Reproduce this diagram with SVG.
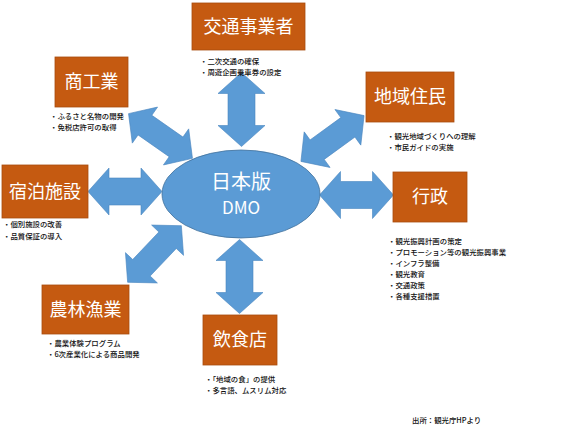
<svg xmlns="http://www.w3.org/2000/svg" xmlns:xlink="http://www.w3.org/1999/xlink" width="567" height="429" viewBox="0 0 567 429">
<style>
.box{fill:#c55a11;stroke:#a84c0e;stroke-width:0.8}
.title{fill:#ffffff;font-family:"Noto Sans CJK JP","Noto Sans",sans-serif;font-size:18px;text-anchor:middle}
.note{fill:#111111;font-family:"Noto Sans CJK JP","Noto Sans",sans-serif;font-size:7.4px;font-weight:500}
.arrow{fill:#5b9bd5;stroke:#4a86c0;stroke-width:0.6}
.center{fill:#5b9bd5;stroke:#41719c;stroke-width:0.8}
.ctext{fill:#ffffff;font-family:"Noto Sans CJK JP","Noto Sans",sans-serif;text-anchor:middle}
</style>
<defs>
<path id="dbl74" d="M-37,0 L-16,-23.5 L-16,-13.5 L16,-13.5 L16,-23.5 L37,0 L16,23.5 L16,13.5 L-16,13.5 L-16,23.5 Z"/>
<path id="dbl78" d="M-39,0 L-19,-22 L-19,-12 L19,-12 L19,-22 L39,0 L19,22 L19,12 L-19,12 L-19,22 Z"/>
</defs>
<rect width="567" height="429" fill="#ffffff"/>
<g id="connectors">
<use xlink:href="#dbl74" class="arrow" transform="translate(241.5,109.5) rotate(90)"/>
<use xlink:href="#dbl74" class="arrow" transform="translate(239.5,276.5) rotate(90)"/>
<use xlink:href="#dbl74" class="arrow" transform="translate(125,191.5)"/>
<use xlink:href="#dbl74" class="arrow" transform="translate(356.5,195)"/>
<use xlink:href="#dbl78" class="arrow" transform="translate(160.5,136) rotate(35)"/>
<use xlink:href="#dbl78" class="arrow" transform="translate(332.5,138.5) rotate(-36)"/>
<use xlink:href="#dbl78" class="arrow" transform="translate(154.5,254) rotate(-46.5)"/>
</g>
<g id="dmo">
<ellipse class="center" cx="241" cy="194" rx="79" ry="44"/>
<text class="ctext" x="241" y="189" font-size="20">日本版</text>
<text class="ctext" x="241" y="214" font-size="17">DMO</text>
</g>
<g id="kotsu">
<rect class="box" x="192" y="3" width="113" height="47"/>
<text class="title" x="248.5" y="33">交通事業者</text>
<text class="note" x="200" y="64">・二次交通の確保</text>
<text class="note" x="200" y="75">・周遊企画乗車券の設定</text>
</g>
<g id="shokogyo">
<rect class="box" x="55" y="57" width="73" height="50"/>
<text class="title" x="91.5" y="88">商工業</text>
<text class="note" x="50" y="119">・ふるさと名物の開発</text>
<text class="note" x="50" y="130">・免税店許可の取得</text>
</g>
<g id="jumin">
<rect class="box" x="366" y="72" width="88" height="50"/>
<text class="title" x="410" y="103">地域住民</text>
<text class="note" x="387" y="139">・観光地域づくりへの理解</text>
<text class="note" x="387" y="150">・市民ガイドの実施</text>
</g>
<g id="shukuhaku">
<rect class="box" x="2" y="165" width="86" height="53"/>
<text class="title" x="45" y="198">宿泊施設</text>
<text class="note" x="3" y="227">・個別施設の改善</text>
<text class="note" x="3" y="239">・品質保証の導入</text>
</g>
<g id="gyosei">
<rect class="box" x="393" y="172" width="74" height="50"/>
<text class="title" x="430" y="203">行政</text>
<text class="note" x="388" y="244">・観光振興計画の策定</text>
<text class="note" x="388" y="255">・プロモーション等の観光振興事業</text>
<text class="note" x="388" y="266">・インフラ整備</text>
<text class="note" x="388" y="277">・観光教育</text>
<text class="note" x="388" y="288">・交通政策</text>
<text class="note" x="388" y="299">・各種支援措置</text>
</g>
<g id="norin">
<rect class="box" x="42" y="285" width="87" height="49"/>
<text class="title" x="85.5" y="316">農林漁業</text>
<text class="note" x="47" y="346">・農業体験プログラム</text>
<text class="note" x="47" y="357">・6次産業化による商品開発</text>
</g>
<g id="inshoku">
<rect class="box" x="203" y="315" width="74" height="50"/>
<text class="title" x="240" y="346">飲食店</text>
<text class="note" x="205" y="382">・「地域の食」の提供</text>
<text class="note" x="205" y="393">・多言語、ムスリム対応</text>
</g>
<text class="note" x="412" y="423">出所：観光庁HPより</text>
</svg>
